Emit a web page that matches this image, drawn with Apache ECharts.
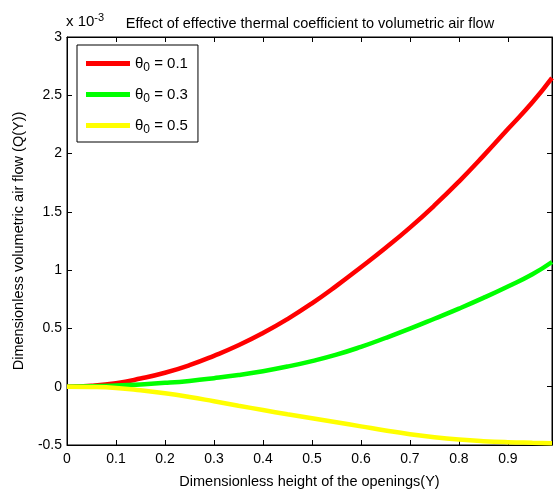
<!DOCTYPE html>
<html>
<head>
<meta charset="utf-8">
<script src="https://cdn.jsdelivr.net/npm/echarts@6/dist/echarts.min.js"></script>
<style>
  html, body { margin: 0; padding: 0; background: #fff; }
  #main { width: 554px; height: 494px; }
</style>
</head>
<body>
<div id="main"></div>
<script>
// dimensionless height Y
var heights = [0, 0.05, 0.1, 0.15, 0.2, 0.25, 0.3, 0.35, 0.4, 0.45, 0.5,
               0.55, 0.6, 0.65, 0.7, 0.75, 0.8, 0.85, 0.9, 0.95, 0.99];
// Q(Y) in units of 1e-3
var flowTheta01 = [0, 0.008, 0.03, 0.07, 0.12, 0.185, 0.265, 0.355, 0.46, 0.58, 0.715,
                   0.865, 1.025, 1.19, 1.365, 1.555, 1.76, 1.98, 2.21, 2.44, 2.65];
var flowTheta03 = [0, 0.003, 0.01, 0.02, 0.033, 0.05, 0.073, 0.1, 0.133, 0.173, 0.22,
                   0.275, 0.342, 0.418, 0.498, 0.583, 0.67, 0.762, 0.86, 0.965, 1.07];
var flowTheta05 = [0, -0.002, -0.01, -0.03, -0.056, -0.088, -0.125, -0.163, -0.2, -0.236, -0.27,
                   -0.305, -0.34, -0.375, -0.407, -0.433, -0.453, -0.467, -0.476, -0.481, -0.484];
var seriesNames = ['θ0 = 0.1', 'θ0 = 0.3', 'θ0 = 0.5'];
var seriesColors = ['#ff0000', '#00ff00', '#ffff00'];

function pairs(ys) {
  return heights.map(function (h, i) { return [h, ys[i]]; });
}

var font = 'Liberation Sans, Arial, sans-serif';
var chart = echarts.init(document.getElementById('main'));

function numLabel(v) { return String(+v.toFixed(2)); }

var tick = { inside: true, length: 5, lineStyle: { color: '#000' } };
var line = { onZero: false, lineStyle: { color: '#000' } };

var option = {
  animation: false,
  textStyle: { fontFamily: font },
  title: {
    text: 'Effect of effective thermal coefficient to volumetric air flow',
    left: 305, top: 11, textAlign: 'center',
    textStyle: { fontSize: 14.5, fontWeight: 'normal', color: '#000', fontFamily: font }
  },
  grid: { left: 67, top: 37, right: 2, bottom: 49, show: true, borderColor: '#000', borderWidth: 1 },
  legend: {
    orient: 'vertical',
    left: 77, top: 45,
    padding: [8, 10, 6, 9],
    itemWidth: 44, itemHeight: 5, itemGap: 10,
    icon: 'rect',
    borderColor: '#000', borderWidth: 1,
    backgroundColor: '#fff',
    data: seriesNames,
    formatter: function (name) {
      return '{t|θ}{s|0}{t|' + name.slice(2) + '}';
    },
    textStyle: {
      rich: {
        t: { fontSize: 15, color: '#000', fontFamily: font, lineHeight: 18 },
        s: { fontSize: 12, color: '#000', fontFamily: font, padding: [9, 0, 0, 0], lineHeight: 18 }
      }
    }
  },
  graphic: [{
    type: 'text', left: 66, top: 12,
    style: {
      text: '{a|x 10}{b|-3}',
      rich: {
        a: { fontSize: 15, fill: '#000', fontFamily: font, padding: [9, 0, 0, 0] },
        b: { fontSize: 11, fill: '#000', fontFamily: font }
      }
    }
  }],
  xAxis: [{
    type: 'value', min: 0, max: 0.99, interval: 0.1,
    name: 'Dimensionless height of the openings(Y)',
    nameLocation: 'middle', nameGap: 29,
    nameTextStyle: { fontSize: 14.5, color: '#000' },
    axisLine: line, axisTick: tick,
    axisLabel: { fontSize: 14, color: '#000', margin: 7, showMaxLabel: false, formatter: numLabel },
    splitLine: { show: false }
  }, {
    type: 'value', min: 0, max: 0.99, interval: 0.1, position: 'top',
    axisLine: line, axisTick: tick,
    axisLabel: { show: false }, splitLine: { show: false }
  }],
  yAxis: [{
    type: 'value', min: -0.5, max: 3, interval: 0.5,
    name: 'Dimensionless volumetric air flow (Q(Y))',
    nameLocation: 'middle', nameGap: 38,
    nameTextStyle: { fontSize: 14.5, color: '#000' },
    axisLine: line, axisTick: tick,
    axisLabel: { fontSize: 14, color: '#000', margin: 5, formatter: numLabel },
    splitLine: { show: false }
  }, {
    type: 'value', min: -0.5, max: 3, interval: 0.5, position: 'right',
    axisLine: line, axisTick: tick,
    axisLabel: { show: false }, splitLine: { show: false }
  }],
  series: [flowTheta01, flowTheta03, flowTheta05].map(function (ys, i) {
    return {
      name: seriesNames[i], type: 'line', smooth: true, showSymbol: false,
      color: seriesColors[i],
      lineStyle: { width: 4.5, color: seriesColors[i] },
      data: pairs(ys)
    };
  })
};
chart.setOption(option);
</script>
</body>
</html>
